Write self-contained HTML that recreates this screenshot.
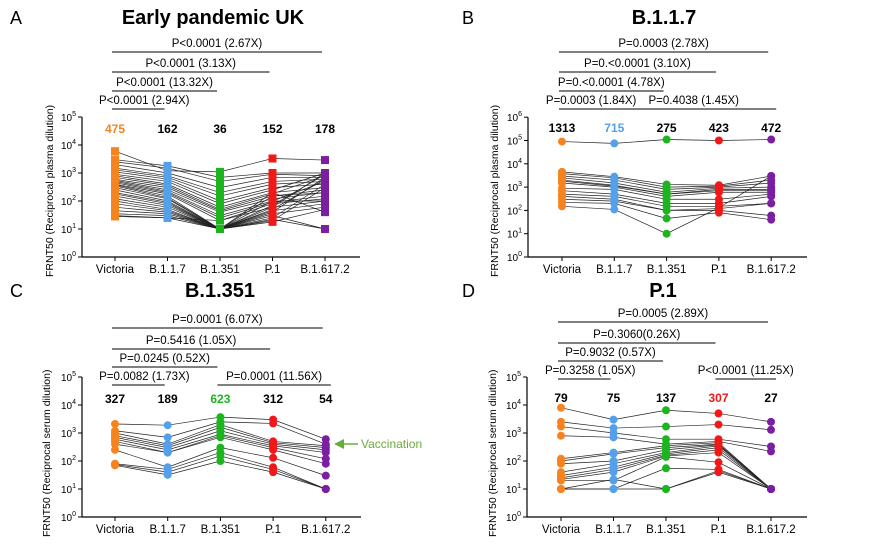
<!DOCTYPE html>
<html><head><meta charset="utf-8">
<style>
body{margin:0;background:#fff;}
svg{display:block;font-family:"Liberation Sans",Arial,sans-serif;}
</style></head>
<body>
<svg id="chart" width="895" height="548" viewBox="0 0 895 548"></svg>
<script>
const categories = ["Victoria","B.1.1.7","B.1.351","P.1","B.1.617.2"];
const colors = ["#f5841f","#55a0ea","#1db51d","#f21818","#7b1fa2"];

const medA = ["475","162","36","152","178"];
const medB = ["1313","715","275","423","472"];
const medC = ["327","189","623","312","54"];
const medD = ["79","75","137","307","27"];

const dataA = [
[6000,1200,1100,3300,2900],[3000,1800,700,1000,1000],[2500,1500,500,900,800],[2000,1000,300,700,700],
[1500,800,200,500,600],[1300,700,150,400,500],[1100,600,100,300,400],[900,500,80,250,1000],
[800,400,60,200,300],[700,350,50,180,800],[600,300,45,150,250],[550,250,40,120,200],
[500,220,30,100,500],[450,200,25,90,150],[400,180,20,80,120],[380,150,10,70,900],
[350,130,10,60,100],[300,120,10,50,600],[250,100,10,45,80],[200,90,10,40,700],
[180,80,10,35,60],[150,70,10,30,10],[120,60,10,25,400],[100,50,10,22,10],
[80,45,10,20,300],[60,40,10,18,50],[45,35,10,200,40],[35,30,10,150,200],
[30,25,10,100,100],[28,25,20,60,1000]];
const dataB = [
[90000,75000,110000,100000,110000],[4500,2800,1300,1200,3000],[3800,2500,1000,1100,2000],
[3000,2000,800,1000,1500],[2500,1500,600,900,1000],[2000,1200,500,800,800],
[1800,1100,500,700,700],[1500,1000,400,600,600],[900,800,300,300,500],
[700,500,200,200,400],[500,400,150,150,200],[400,300,100,120,200],
[300,250,100,100,60],[220,200,45,80,40],[150,110,10,130,3000]];
const dataC = [
[2100,1900,3700,3000,600],[1200,700,2500,2200,400],[1000,400,2000,500,350],
[800,350,1600,450,300],[700,300,1200,400,250],[600,250,900,350,200],
[500,200,800,300,120],[400,200,700,250,80],[250,60,300,130,30],
[80,50,200,60,10],[75,40,150,50,10],[70,32,100,40,10]];
const dataD = [
[8000,3000,6500,5000,2500],[2500,1500,1700,2000,1300],[1700,1000,600,600,330],
[800,700,400,500,220],[120,200,350,450,10],[100,180,300,400,10],
[80,100,250,380,10],[40,80,200,350,10],[30,60,180,300,10],
[25,50,160,250,10],[22,40,150,200,10],[20,20,140,90,10],
[10,10,55,50,10],[10,10,10,45,10],[10,22,10,40,10]];

const bracketsA = [["P<0.0001 (2.67X)",0,4],["P<0.0001 (3.13X)",0,3],["P<0.0001 (13.32X)",0,2],["P<0.0001 (2.94X)",0,1]];
const bracketsB = [["P=0.0003 (2.78X)",0,4],["P=0.<0.0001 (3.10X)",0,3],["P=0.<0.0001 (4.78X)",0,2],["P=0.0003 (1.84X)",0,1],["P=0.4038 (1.45X)",1,4]];
const bracketsC = [["P=0.0001 (6.07X)",0,4],["P=0.5416 (1.05X)",0,3],["P=0.0245 (0.52X)",0,2],["P=0.0082 (1.73X)",0,1],["P=0.0001 (11.56X)",2,4]];
const bracketsD = [["P=0.0005 (2.89X)",0,4],["P=0.3060(0.26X)",0,3],["P=0.9032 (0.57X)",0,2],["P=0.3258 (1.05X)",0,1],["P<0.0001 (11.25X)",3,4]];

const NS="http://www.w3.org/2000/svg";
const svg=document.getElementById('chart');
function mk(tag,attrs,parent,text){const e=document.createElementNS(NS,tag);for(const k in attrs)e.setAttribute(k,attrs[k]);if(text!==undefined)e.textContent=text;(parent||svg).appendChild(e);return e;}

function panel(p){
  const g=mk('g',{});
  
  
  const xPos=i=>p.x0+i*p.dx;
  const yPos=v=>p.yBottom-Math.log10(v)*p.perDec;
  const yTop=p.yBottom-p.maxExp*p.perDec;
  let t=mk('text',{x:p.letterX,y:p.letterY,'font-size':18},g,p.id);
  
  t=mk('text',{x:p.titleX,y:p.titleY,'font-size':p.titleSize,'font-weight':'bold','text-anchor':'middle'},g,p.title);
  
  let a=mk('line',{x1:p.axisX,y1:yTop,x2:p.axisX,y2:p.yBottom,stroke:'#000','stroke-width':1.2},g);
  
  a=mk('line',{x1:p.axisX,y1:p.yBottom,x2:p.axisEnd,y2:p.yBottom,stroke:'#000','stroke-width':1.2},g);
  
  for(let e=0;e<=p.maxExp;e++){
    const y=p.yBottom-e*p.perDec;
    mk('line',{x1:p.axisX-4,y1:y,x2:p.axisX,y2:y,stroke:'#000','stroke-width':1},g);
    const tl=mk('text',{x:p.axisX-6,y:y+4,'font-size':10,'text-anchor':'end'},g);
    
    mk('tspan',{},tl,'10');
    mk('tspan',{dy:-5,'font-size':7},tl,String(e));
  }
  t=mk('text',{transform:`translate(${p.ylabX},${p.yBottom+20}) rotate(-90)`,'font-size':10.5,'text-anchor':'start'},g,p.ylabel);
  
  categories.forEach((c,i)=>{
    mk('line',{x1:xPos(i),y1:p.yBottom,x2:xPos(i),y2:p.yBottom+4,stroke:'#000'},g);
    const l=mk('text',{x:xPos(i),y:p.yBottom+16,'font-size':11.5,'text-anchor':'middle'},g,c);
    
  });
  p.data.forEach(row=>{
    const pts=row.map((v,i)=>xPos(i)+','+yPos(v)).join(' ');
    const pl=mk('polyline',{points:pts,fill:'none',stroke:'#222','stroke-width':0.7},g);
    
  });
  p.data.forEach(row=>{
    row.forEach((v,i)=>{
      let m;
      if(p.square) m=mk('rect',{x:xPos(i)-4,y:yPos(v)-4,width:8,height:8,fill:colors[i]},g);
      else m=mk('circle',{cx:xPos(i),cy:yPos(v),r:4,fill:colors[i]},g);
      
      
    });
  });
  p.med.forEach((m,i)=>{
    const l=mk('text',{x:xPos(i),y:p.medY,'font-size':12,'font-weight':'bold','text-anchor':'middle',fill:i===p.hl?colors[i]:'#000'},g,m);
    
  });
  p.brackets.forEach((b,k)=>{
    const y=p.brY[k];
    const x1=xPos(b[1])-3,x2=xPos(b[2])-3;
    const ln=mk('line',{x1:x1,y1:y,x2:x2+(b[1]>0?8:0),y2:y,stroke:'#000','stroke-width':1},g);
    
    const tx=mk('text',{x:(x1+x2)/2+(b[1]>0?4:0)+(b[2]===1?6:0),y:y-5,'font-size':11.5,'text-anchor':'middle'},g,b[0]);
    
  });
  return g;
}

panel({id:'A',title:'Early pandemic UK',titleX:213,titleY:24,titleSize:20,letterX:10,letterY:24,
  axisX:82,axisEnd:360,yBottom:257,perDec:28,maxExp:5,x0:115,dx:52.5,data:dataA,med:medA,hl:0,medY:133,
  square:true,brackets:bracketsA,brY:[52,72,91,109],ylabX:53,ylabel:'FRNT50 (Reciprocal plasma dilution)'});
panel({id:'B',title:'B.1.1.7',titleX:664,titleY:24,titleSize:20,letterX:462,letterY:24,
  axisX:528,axisEnd:807,yBottom:257,perDec:23.3,maxExp:6,x0:562,dx:52.3,data:dataB,med:medB,hl:1,medY:132,
  square:false,brackets:bracketsB,brY:[52,72,91,109,109],ylabX:498,ylabel:'FRNT50 (Reciprocal plasma dilution)'});
panel({id:'C',title:'B.1.351',titleX:220,titleY:297,titleSize:20,letterX:10,letterY:297,
  axisX:82,axisEnd:361,yBottom:517,perDec:28,maxExp:5,x0:115,dx:52.7,data:dataC,med:medC,hl:2,medY:403,
  square:false,brackets:bracketsC,brY:[328,349,367,385,385],ylabX:50,ylabel:'FRNT50  (Reciprocal serum dilution)'});
panel({id:'D',title:'P.1',titleX:663,titleY:297,titleSize:20,letterX:462,letterY:297,
  axisX:527,axisEnd:807,yBottom:517,perDec:28,maxExp:5,x0:561,dx:52.5,data:dataD,med:medD,hl:3,medY:402,
  square:false,brackets:bracketsD,brY:[322,343,361,379,379],ylabX:496,ylabel:'FRNT50  (Reciprocal serum dilution)'});

const va=mk('g',{});


mk('line',{x1:343,y1:444,x2:358,y2:444,stroke:'#6aac3c','stroke-width':1.5},va);
mk('polygon',{points:'334,444 344,439 344,449',fill:'#6aac3c'},va);
mk('text',{x:361,y:448,'font-size':12,fill:'#6aac3c'},va,'Vaccination');
</script>
</body></html>
